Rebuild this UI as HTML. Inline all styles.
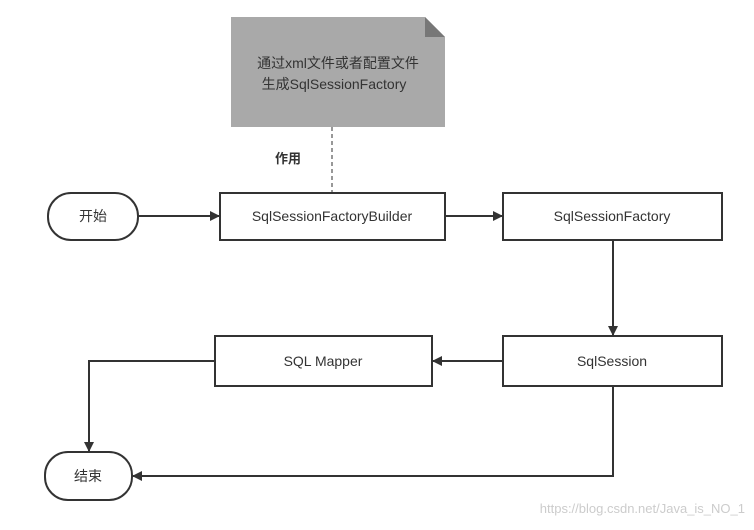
<!DOCTYPE html>
<html><head><meta charset="utf-8"><style>
body{margin:0;background:#fff}
svg text{font-family:"Liberation Sans","Noto Sans CJK SC",sans-serif}
</style></head><body>
<svg width="754" height="525" viewBox="0 0 754 525" xmlns="http://www.w3.org/2000/svg">
<defs><marker id="a" markerWidth="10" markerHeight="10" refX="9" refY="5" orient="auto" markerUnits="userSpaceOnUse"><path d="M0,0 L10,5 L0,10 z" fill="#333"/></marker></defs>
<path d="M231,17 L425,17 L445,37 L445,127 L231,127 z" fill="#a9a9a9"/>
<path d="M425,17 L445,37 L425,37 z" fill="#777"/>
<text x="338" y="68" font-size="14" fill="#333" text-anchor="middle">通过xml文件或者配置文件</text>
<text x="334" y="89" font-size="14" fill="#333" text-anchor="middle">生成SqlSessionFactory</text>
<line x1="332" y1="127" x2="332" y2="192" stroke="#777" stroke-width="1.5" stroke-dasharray="4,3"/>
<text x="288" y="163" font-size="13" font-weight="bold" fill="#333" text-anchor="middle">作用</text>
<g fill="#fff" stroke="#333" stroke-width="2">
<rect x="48" y="193" width="90" height="47" rx="23"/>
<rect x="220" y="193" width="225" height="47"/>
<rect x="503" y="193" width="219" height="47"/>
<rect x="503" y="336" width="219" height="50"/>
<rect x="215" y="336" width="217" height="50"/>
<rect x="45" y="452" width="87" height="48" rx="23"/>
</g>
<g stroke="#333" stroke-width="2" fill="none" marker-end="url(#a)">
<line x1="138" y1="216" x2="219" y2="216"/>
<line x1="445" y1="216" x2="502" y2="216"/>
<line x1="613" y1="240" x2="613" y2="335"/>
<line x1="503" y1="361" x2="433" y2="361"/>
<polyline points="215,361 89,361 89,451"/>
<polyline points="613,386 613,476 133,476"/>
</g>
<g font-size="14" fill="#333" text-anchor="middle">
<text x="93" y="221">开始</text>
<text x="332" y="221">SqlSessionFactoryBuilder</text>
<text x="612" y="221">SqlSessionFactory</text>
<text x="612" y="366">SqlSession</text>
<text x="323" y="366">SQL Mapper</text>
<text x="88" y="481">结束</text>
</g>
<text x="745" y="513" font-size="13" fill="#ccc" text-anchor="end">https://blog.csdn.net/Java_is_NO_1</text>
</svg>
</body></html>
